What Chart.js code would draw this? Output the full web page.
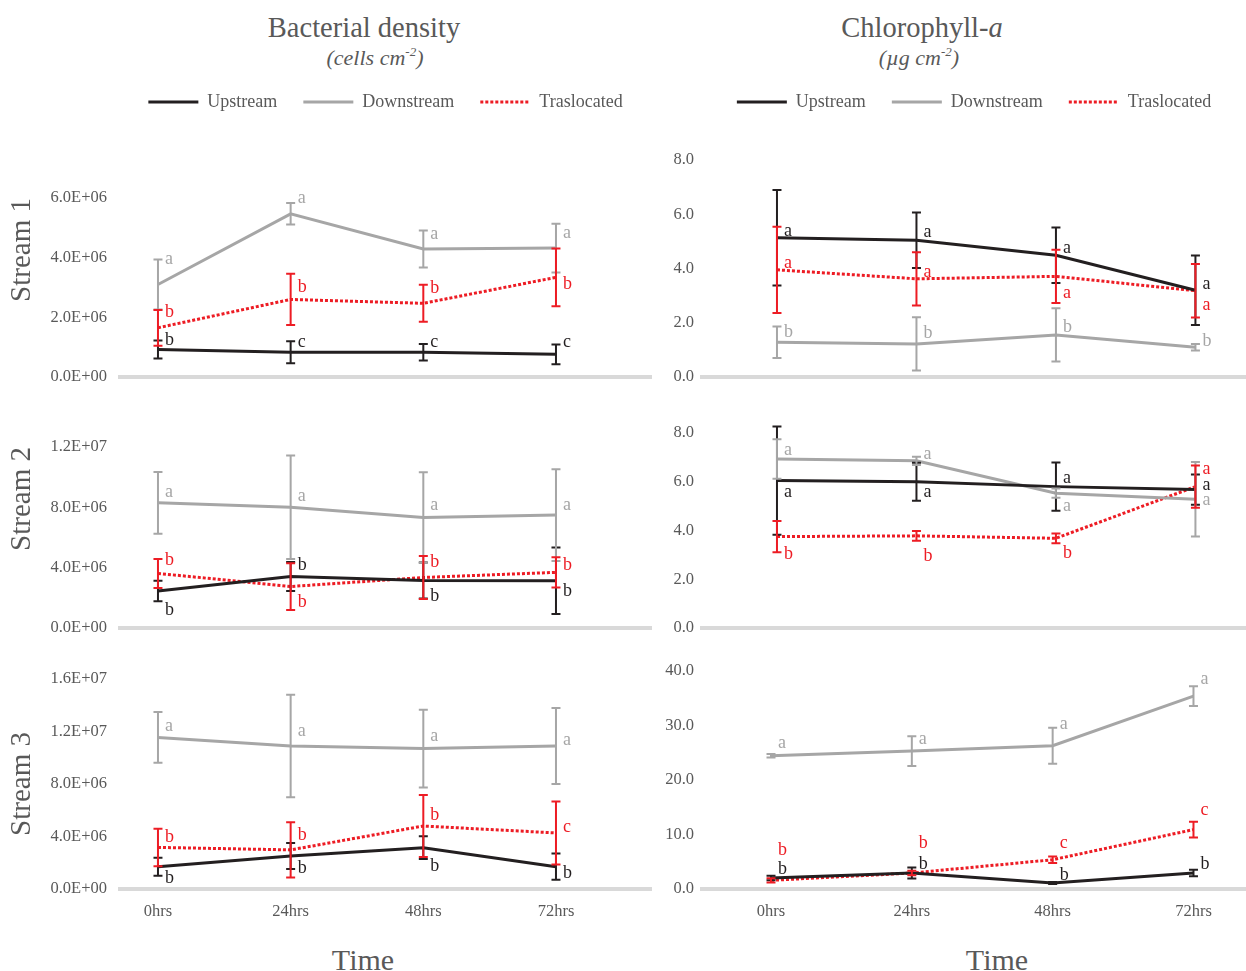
<!DOCTYPE html>
<html>
<head>
<meta charset="utf-8">
<script src="https://cdn.jsdelivr.net/npm/chart.js@4.4.1/dist/chart.umd.min.js"></script>
<style>
html, body { margin: 0; padding: 0; width: 1246px; height: 971px; overflow: hidden; background: #fff; }
canvas { position: absolute; }
.ttl { position: absolute; font-family: 'Liberation Serif', 'Times New Roman', serif; color: #595959; text-align: center; white-space: nowrap; width: 300px; }
.ttl sup { font-size: 13px; line-height: 0; vertical-align: 9px; }
</style>
</head>
<body>
<div class="ttl" style="left:214px;top:10px;font-size:28.5px;line-height:36px;">Bacterial density</div>
<div class="ttl" style="left:225px;top:44px;font-size:22px;line-height:28px;font-style:italic;">(cells cm<sup>-2</sup>)</div>
<div class="ttl" style="left:772px;top:10px;font-size:28.5px;line-height:36px;">Chlorophyll-<i>a</i></div>
<div class="ttl" style="left:769px;top:44px;font-size:22px;line-height:28px;font-style:italic;">(µg cm<sup>-2</sup>)</div>
<div class="ttl" style="left:213px;top:941px;font-size:30px;line-height:38px;">Time</div>
<div class="ttl" style="left:847px;top:941px;font-size:30px;line-height:38px;">Time</div>

<canvas id="L1" width="652" height="401" style="left:0px;top:0px;"></canvas>
<canvas id="L2" width="652" height="229" style="left:0px;top:423px;"></canvas>
<canvas id="L3" width="652" height="322" style="left:0px;top:655px;"></canvas>
<canvas id="R1" width="591" height="401" style="left:655px;top:0px;"></canvas>
<canvas id="R2" width="591" height="243" style="left:655px;top:409px;"></canvas>
<canvas id="R3" width="591" height="330" style="left:655px;top:647px;"></canvas>

<script>
// ---------- categories ----------
const hours = [0, 24, 48, 72];
const timeLabels = ['0hrs', '24hrs', '48hrs', '72hrs'];
const seriesNames = ['Upstream', 'Downstream', 'Traslocated'];

// ---------- Bacterial density (cells cm-2) ----------
const bact1Up = [0.92e6, 0.83e6, 0.83e6, 0.76e6];
const bact1UpErr = [0.30e6, 0.37e6, 0.28e6, 0.33e6];
const bact1UpSig = ['b', 'c', 'c', 'c'];
const bact1Down = [3.10e6, 5.47e6, 4.29e6, 4.32e6];
const bact1DownErr = [0.84e6, 0.36e6, 0.62e6, 0.82e6];
const bact1DownSig = ['a', 'a', 'a', 'a'];
const bact1Tras = [1.65e6, 2.60e6, 2.47e6, 3.34e6];
const bact1TrasErr = [0.60e6, 0.86e6, 0.62e6, 0.97e6];
const bact1TrasSig = ['b', 'b', 'b', 'b'];

const bact2Up = [2.45e6, 3.42e6, 3.15e6, 3.13e6];
const bact2UpErr = [0.68e6, 0.96e6, 1.20e6, 2.20e6];
const bact2UpSig = ['b', 'b', 'b', 'b'];
const bact2Down = [8.30e6, 8.00e6, 7.33e6, 7.49e6];
const bact2DownErr = [2.05e6, 3.43e6, 3.00e6, 3.04e6];
const bact2DownSig = ['a', 'a', 'a', 'a'];
const bact2Tras = [3.62e6, 2.75e6, 3.35e6, 3.69e6];
const bact2TrasErr = [0.96e6, 1.55e6, 1.42e6, 1.00e6];
const bact2TrasSig = ['b', 'b', 'b', 'b'];

const bact3Up = [1.70e6, 2.52e6, 3.15e6, 1.70e6];
const bact3UpErr = [0.69e6, 0.99e6, 0.87e6, 1.00e6];
const bact3UpSig = ['b', 'b', 'b', 'b'];
const bact3Down = [11.55e6, 10.90e6, 10.70e6, 10.90e6];
const bact3DownErr = [1.94e6, 3.90e6, 2.96e6, 2.90e6];
const bact3DownSig = ['a', 'a', 'a', 'a'];
const bact3Tras = [3.17e6, 2.98e6, 4.80e6, 4.27e6];
const bact3TrasErr = [1.43e6, 2.10e6, 2.37e6, 2.40e6];
const bact3TrasSig = ['b', 'b', 'b', 'c'];

// ---------- Chlorophyll-a (µg cm-2) ----------
const chl1Up = [5.13, 5.04, 4.49, 3.20];
const chl1UpErr = [1.76, 1.02, 1.02, 1.28];
const chl1UpSig = ['a', 'a', 'a', 'a'];
const chl1Down = [1.28, 1.22, 1.55, 1.10];
const chl1DownErr = [0.58, 0.98, 0.98, 0.12];
const chl1DownSig = ['b', 'b', 'b', 'b'];
const chl1Tras = [3.95, 3.62, 3.71, 3.18];
const chl1TrasErr = [1.59, 0.98, 0.98, 0.99];
const chl1TrasSig = ['a', 'a', 'a', 'a'];

const chl2Up = [6.05, 6.00, 5.80, 5.68];
const chl2UpErr = [2.22, 0.78, 0.99, 0.62];
const chl2UpSig = ['a', 'a', 'a', 'a'];
const chl2Down = [6.93, 6.86, 5.53, 5.28];
const chl2DownErr = [0.81, 0.17, 0.19, 1.53];
const chl2DownSig = ['a', 'a', 'a', 'a'];
const chl2Tras = [3.75, 3.78, 3.68, 5.80];
const chl2TrasErr = [0.64, 0.20, 0.20, 0.87];
const chl2TrasSig = ['b', 'b', 'b', 'a'];

const chl3Up = [2.01, 2.93, 1.10, 2.93];
const chl3UpErr = [0.40, 1.00, 0.20, 0.60];
const chl3UpSig = ['b', 'b', 'b', 'b'];
const chl3Down = [24.45, 25.30, 26.30, 35.40];
const chl3DownErr = [0.30, 2.75, 3.30, 1.80];
const chl3DownSig = ['a', 'a', 'a', 'a'];
const chl3Tras = [1.59, 2.93, 5.37, 10.90];
const chl3TrasErr = [0.40, 0.40, 0.60, 1.44];
const chl3TrasSig = ['b', 'b', 'c', 'c'];

// ---------- letter placement (style: px offset from the mean) ----------
const dyL1 = { up: [-9, -10, -10, -12], down: [-25, -16, -15, -15], tras: [-16, -12, -15, 7] };
const dyL2 = { up: [19, -11, 16, 10], down: [-11, -11, -12, -10], tras: [-13, 16, -15, -7] };
const dyL3 = { up: [12, 12, 19, 7], down: [-11, -15, -12, -6], tras: [-10, -15, -11, -6] };
const dyR1 = { up: [-7, -8, -7, -6], down: [-10, -11, -8, -6], tras: [-7, -7, 17, 15] };
const dyR2 = { up: [12, 11, -8, -4], down: [-9, -7, 13, 1], tras: [18, 20, 15, -17] };
const dyR3 = { up: [-9, -9, -8, -9], down: [-12, -12, -21, -17], tras: [-30, -30, -16, -19] };

// ---------- styles ----------
const colUp = '#231f20', colDown = '#a6a6a6', colTras = '#ed1c24';
const txtCol = '#595959';
const FONT = "'Liberation Serif', 'Times New Roman', serif";

function sci(v) {
  if (v === 0) return '0.0E+00';
  const e = Math.floor(Math.log10(Math.abs(v)) + 1e-9);
  const m = v / Math.pow(10, e);
  return m.toFixed(1) + 'E' + (e < 0 ? '-' : '+') + String(Math.abs(e)).padStart(2, '0');
}

const sigPlugin = {
  id: 'sigBars',
  afterDatasetsDraw(chart) {
    const ctx = chart.ctx, xs = chart.scales.x, ys = chart.scales.y;
    chart.data.datasets.forEach((ds, i) => {
      if (!chart.isDatasetVisible(i)) return;
      ctx.save();
      ctx.setLineDash([]);
      ctx.strokeStyle = ds.borderColor;
      ctx.lineWidth = 2;
      ctx.fillStyle = ds.borderColor;
      ctx.font = '18px ' + FONT;
      ctx.textAlign = 'left';
      ctx.textBaseline = 'middle';
      ds.data.forEach((p, j) => {
        const x = xs.getPixelForValue(p.x);
        const e = ds.err[j];
        const yt = ys.getPixelForValue(p.y + e);
        const yb = ys.getPixelForValue(p.y - e);
        ctx.beginPath();
        ctx.moveTo(x, yt); ctx.lineTo(x, yb);
        ctx.moveTo(x - 4.5, yt); ctx.lineTo(x + 4.5, yt);
        ctx.moveTo(x - 4.5, yb); ctx.lineTo(x + 4.5, yb);
        ctx.stroke();
        ctx.fillText(ds.sig[j], x + 7, ys.getPixelForValue(p.y) + ds.sigDy[j]);
      });
      ctx.restore();
    });
  }
};

function series(label, vals, err, sig, dy, color, dash) {
  return {
    label: label,
    data: hours.map((h, i) => ({ x: h, y: vals[i] })),
    borderColor: color,
    backgroundColor: color,
    borderWidth: 3,
    borderDash: dash,
    pointRadius: 0,
    pointHoverRadius: 0,
    tension: 0,
    err: err, sig: sig, sigDy: dy
  };
}

function legendLabels(chart) {
  const items = Chart.defaults.plugins.legend.labels.generateLabels(chart);
  items.forEach(it => {
    const ds = chart.data.datasets[it.datasetIndex];
    it.pointStyle = 'line';
    it.lineWidth = 3;
    it.lineDash = ds.borderDash;
    it.strokeStyle = ds.borderColor;
    it.fillStyle = ds.borderColor;
    it.fontColor = txtCol;
  });
  return items;
}

function makeChart(id, o) {
  const scales = {
    x: {
      type: 'linear', position: 'bottom', min: o.xMin, max: o.xMax,
      grid: { display: false, drawTicks: false },
      border: { display: true, color: '#d9d9d9', width: 4 },
      afterBuildTicks: s => { s.ticks = hours.map(v => ({ value: v })); },
      ticks: {
        display: !!o.bottom, padding: 13, color: txtCol,
        font: { family: FONT, size: 16.5 },
        callback: v => timeLabels[hours.indexOf(v)]
      },
      afterFit: s => { s.height = o.xh; }
    },
    y: {
      type: 'linear', position: 'left', min: 0, max: o.yMax,
      grid: { display: false, drawTicks: false },
      border: { display: false },
      ticks: {
        stepSize: o.yStep, padding: o.tickPad, color: txtCol,
        font: { family: FONT, size: 16.5 },
        callback: o.fmt
      },
      title: {
        display: !!o.yTitle, text: o.yTitle || '', align: o.yAlign || 'center',
        color: txtCol, font: { family: FONT, size: 29 }, padding: { top: 5, bottom: 0 }
      },
      afterFit: s => { s.width = o.yw; }
    }
  };
  if (o.spacer) {
    scales.sp = {
      type: 'linear', position: 'top', display: true,
      grid: { display: false, drawTicks: false },
      border: { display: false },
      ticks: { display: false },
      afterFit: s => { s.height = o.spacer; }
    };
  }
  return new Chart(document.getElementById(id), {
    type: 'line',
    data: {
      datasets: [
        series(seriesNames[0], o.up, o.upErr, o.upSig, o.dy.up, colUp, []),
        series(seriesNames[1], o.down, o.downErr, o.downSig, o.dy.down, colDown, []),
        series(seriesNames[2], o.tras, o.trasErr, o.trasSig, o.dy.tras, colTras, [3, 2])
      ]
    },
    options: {
      responsive: false,
      animation: false,
      events: [],
      layout: { padding: { top: o.padTop, left: 0, right: o.padRight, bottom: 0 } },
      scales: scales,
      plugins: {
        tooltip: { enabled: false },
        legend: {
          display: !!o.legend,
          position: 'top',
          fullSize: false,
          align: 'center',
          labels: {
            usePointStyle: true, pointStyle: 'line', pointStyleWidth: 50,
            boxHeight: 18, padding: 26, color: txtCol,
            font: { family: FONT, size: 18 },
            generateLabels: legendLabels
          }
        }
      }
    },
    plugins: [sigPlugin]
  });
}

const fix1 = v => v.toFixed(1);

makeChart('L1', {
  up: bact1Up, upErr: bact1UpErr, upSig: bact1UpSig,
  down: bact1Down, downErr: bact1DownErr, downSig: bact1DownSig,
  tras: bact1Tras, trasErr: bact1TrasErr, trasSig: bact1TrasSig, dy: dyL1,
  yMax: 6e6, yStep: 2e6, fmt: sci, xMin: -6.87, xMax: 89.19,
  yTitle: 'Stream 1', yAlign: 'end', legend: true, spacer: 77,
  padTop: 67, padRight: 1, xh: 24, yw: 120, tickPad: 13
});
makeChart('L2', {
  up: bact2Up, upErr: bact2UpErr, upSig: bact2UpSig,
  down: bact2Down, downErr: bact2DownErr, downSig: bact2DownSig,
  tras: bact2Tras, trasErr: bact2TrasErr, trasSig: bact2TrasSig, dy: dyL2,
  yMax: 1.2e7, yStep: 4e6, fmt: sci, xMin: -6.87, xMax: 89.19,
  yTitle: 'Stream 2', yAlign: 'end',
  padTop: 24, padRight: 1, xh: 24, yw: 120, tickPad: 13
});
makeChart('L3', {
  up: bact3Up, upErr: bact3UpErr, upSig: bact3UpSig,
  down: bact3Down, downErr: bact3DownErr, downSig: bact3DownSig,
  tras: bact3Tras, trasErr: bact3TrasErr, trasSig: bact3TrasSig, dy: dyL3,
  yMax: 1.6e7, yStep: 4e6, fmt: sci, xMin: -6.87, xMax: 89.19,
  yTitle: 'Stream 3', yAlign: 'center', bottom: true,
  padTop: 24, padRight: 1, xh: 88, yw: 120, tickPad: 13
});
makeChart('R1', {
  up: chl1Up, upErr: chl1UpErr, upSig: chl1UpSig,
  down: chl1Down, downErr: chl1DownErr, downSig: chl1DownSig,
  tras: chl1Tras, trasErr: chl1TrasErr, trasSig: chl1TrasSig, dy: dyR1,
  yMax: 8, yStep: 2, fmt: fix1, xMin: -12.9, xMax: 80.7,
  legend: true, spacer: 39,
  padTop: 67, padRight: 0, xh: 24, yw: 47, tickPad: 8
});
makeChart('R2', {
  up: chl2Up, upErr: chl2UpErr, upSig: chl2UpSig,
  down: chl2Down, downErr: chl2DownErr, downSig: chl2DownSig,
  tras: chl2Tras, trasErr: chl2TrasErr, trasSig: chl2TrasSig, dy: dyR2,
  yMax: 8, yStep: 2, fmt: fix1, xMin: -12.9, xMax: 80.7,
  padTop: 24, padRight: 0, xh: 24, yw: 47, tickPad: 8
});
makeChart('R3', {
  up: chl3Up, upErr: chl3UpErr, upSig: chl3UpSig,
  down: chl3Down, downErr: chl3DownErr, downSig: chl3DownSig,
  tras: chl3Tras, trasErr: chl3TrasErr, trasSig: chl3TrasSig, dy: dyR3,
  yMax: 40, yStep: 10, fmt: fix1, xMin: -11.76, xMax: 80.95, bottom: true,
  padTop: 24, padRight: 0, xh: 88, yw: 47, tickPad: 8
});
</script>
</body>
</html>
